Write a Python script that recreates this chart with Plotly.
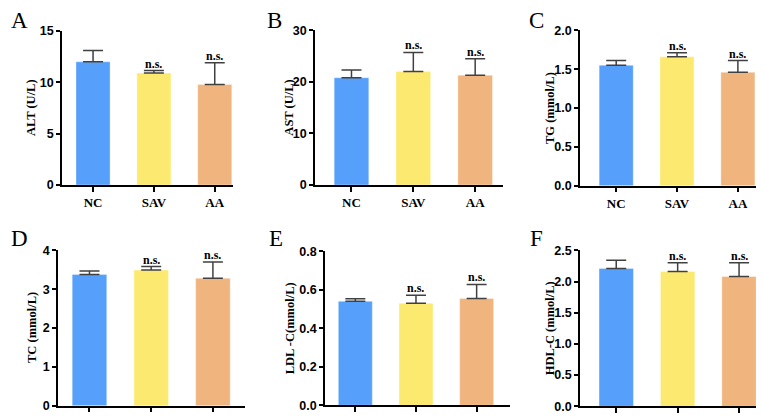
import plotly.graph_objects as go

W, H = 764, 420

categories = ["NC", "SAV", "AA"]
bar_colors = ["#56A0FB", "#FCEA70", "#F0B57E"]

alt_mean = [12.0, 10.9, 9.8]
alt_sd = [1.1, 0.25, 2.1]
ast_mean = [20.8, 22.0, 21.3]
ast_sd = [1.5, 3.7, 3.2]
tg_mean = [1.55, 1.66, 1.46]
tg_sd = [0.06, 0.05, 0.15]
tc_mean = [3.38, 3.49, 3.28]
tc_sd = [0.09, 0.09, 0.42]
ldl_mean = [0.54, 0.53, 0.555]
ldl_sd = [0.013, 0.042, 0.073]
hdl_mean = [2.21, 2.16, 2.08]
hdl_sd = [0.13, 0.14, 0.22]

panel_letters = ["A", "B", "C", "D", "E", "F"]
y_titles = ["ALT (U/L)", "AST (U/L)", "TG (mmol/L)", "TC (mmol/L)", "LDL -C(mmol/L)", "HDL-C (mmol/L)"]
y_max = [15, 30, 2.0, 4, 0.8, 2.5]
y_dtick = [5, 10, 0.5, 1, 0.2, 0.5]
y_fmt = ["d", "d", ".1f", "d", ".1f", ".1f"]
sig_labels = ["", "n.s.", "n.s."]

means = [alt_mean, ast_mean, tg_mean, tc_mean, ldl_mean, hdl_mean]
sds = [alt_sd, ast_sd, tg_sd, tc_sd, ldl_sd, hdl_sd]

# layout geometry (window pixels): plot box left, right, top, bottom ; x range
boxes = [
    (54, 225, 23, 177, [-0.51, 2.30]),
    (307, 495, 22.3, 177, [-0.59, 2.45]),
    (572, 753, 22.3, 177.7, [-0.595, 2.38]),
    (50, 237, 242.3, 397.7, [-0.51, 2.52]),
    (317, 502, 243.3, 397.3, [-0.50, 2.55]),
    (572, 763, 242.3, 398.3, [-0.59, 2.52]),
]
letter_pos = [(11, 12), (266, 12), (528, 12), (11, 230), (268, 230.5), (528, 230)]
title_x = [23, 281, 542, 24, 282, 542]


def px(x):
    return x / W


def py(y):
    return 1 - y / H


fig = go.Figure()
serif = "Liberation Serif"
sans = "Liberation Sans"

for i in range(6):
    ax = "" if i == 0 else str(i + 1)
    xa, ya = "x" + ax, "y" + ax
    fig.add_trace(go.Bar(
        x=categories, y=means[i],
        marker=dict(color=bar_colors, line=dict(color="rgba(255,255,255,0.35)", width=1)),
        width=0.56,
        error_y=dict(type="data", array=sds[i], arrayminus=[0, 0, 0], symmetric=False,
                     color="#404040", thickness=1.5, width=10),
        xaxis=xa, yaxis=ya, showlegend=False,
    ))
    l, r, t, b, xr = boxes[i]
    fig.update_layout(**{
        "xaxis" + ax: dict(
            domain=[px(l), px(r)], anchor=ya, range=xr, showline=True, linecolor="black",
            linewidth=1.5, ticks="outside", ticklen=5, tickwidth=1.5, tickcolor="black",
            tickfont=dict(family=serif, size=13, color="black", weight="bold"),
            showgrid=False, zeroline=False, fixedrange=True, automargin=False,
        ),
        "yaxis" + ax: dict(
            domain=[py(b), py(t)], anchor=xa, range=[0, y_max[i]], dtick=y_dtick[i],
            tickformat=y_fmt[i], showline=True, linecolor="black", linewidth=1.5,
            ticks="outside", ticklen=4, tickwidth=1.5, tickcolor="black",
            tickfont=dict(family=sans, size=12.5, color="black", weight="bold"),
            showgrid=False, zeroline=False, fixedrange=True, automargin=False,
        ),
    })
    # y-axis title
    fig.add_annotation(x=px(title_x[i]), y=py((t + b) / 2), xref="paper", yref="paper",
                       text=y_titles[i], textangle=-90, showarrow=False,
                       xanchor="center", yanchor="middle",
                       font=dict(family=serif, size=12.5, color="black", weight="bold"))
    for j, lab in enumerate(sig_labels):
        if lab:
            fig.add_annotation(x=categories[j], y=means[i][j] + sds[i][j], xref=xa, yref=ya,
                               text=lab, showarrow=False, yanchor="bottom", yshift=-2,
                               font=dict(family=serif, size=12, color="black", weight="bold"))
    lx, ly = letter_pos[i]
    fig.add_annotation(x=px(lx), y=py(ly), xref="paper", yref="paper", text=panel_letters[i],
                       showarrow=False, xanchor="center", yanchor="middle",
                       font=dict(family=serif, size=23, color="black"))

fig.update_layout(width=W, height=H, margin=dict(l=0, r=0, t=0, b=0, autoexpand=False),
                  plot_bgcolor="white", paper_bgcolor="white", bargap=0.4)
fig.write_html("out.html")
